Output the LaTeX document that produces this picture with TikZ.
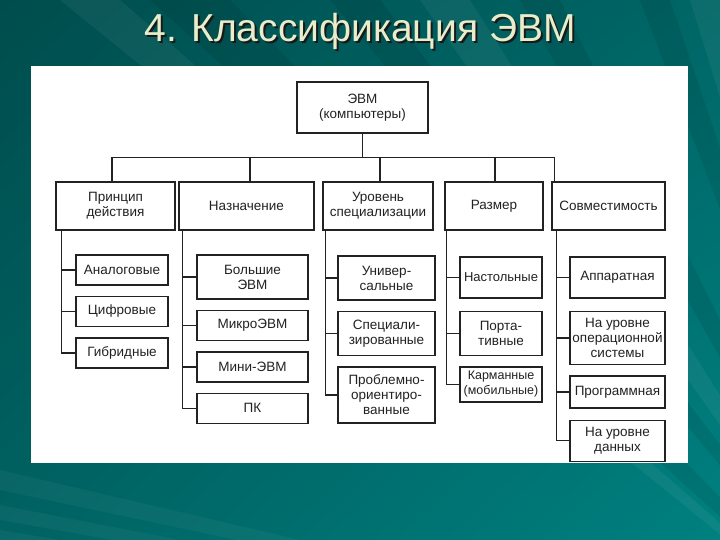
\documentclass[tikz,border=0pt]{standalone}
\usepackage{fontspec}
\setmainfont{Liberation Sans}
\usepackage{tikz}
\usetikzlibrary{positioning,shadings}
\definecolor{tealA}{HTML}{004D4D}
\definecolor{tealB}{HTML}{006666}
\definecolor{tealC}{HTML}{006262}
\definecolor{tealD}{HTML}{008080}
\definecolor{cream}{HTML}{E8EECC}
\definecolor{ink}{HTML}{222222}

\begin{document}
\begin{tikzpicture}[
  x=1pt, y=-1pt,
  node distance=10pt,
  box/.style={draw=ink, line width=1.4pt, fill=white, align=center,
              inner xsep=1pt, inner ysep=1.5pt, text=ink,
              font=\fontsize{13.5}{15}\selectfont},
  head/.style={box, minimum height=48pt},
  link/.style={draw=ink, line width=1.4pt},
  colA/.style={box, minimum width=92pt, minimum height=30pt},
  colB/.style={box, minimum width=111pt, minimum height=30pt},
  colC/.style={box, minimum width=97pt, minimum height=44pt},
  colD/.style={box, minimum width=82pt, minimum height=41pt},
  colE/.style={box, minimum width=95pt, minimum height=41pt}
]
\useasboundingbox (0,0) rectangle (720,540);
% background of the slide
\shade[upper left=tealA, upper right=tealB, lower left=tealC, lower right=tealD]
  (0,0) rectangle (720,540);
\begin{scope}
  \clip (0,0) rectangle (720,540);
  \foreach \a/\b in {150/230, 330/380, 520/560, 640/670}
    \fill[black, opacity=0.08] (900,680) -- (\a,0) -- (\b,0) -- cycle;
  \foreach \a/\b in {60/120, 420/470, 690/720}
    \fill[white, opacity=0.05] (900,680) -- (\a,0) -- (\b,0) -- cycle;
  \foreach \a/\b in {470/490, 505/520, 530/545}
    \fill[white, opacity=0.04] (900,680) -- (0,\a) -- (0,\b) -- cycle;
\end{scope}

% title
\node[anchor=base, text=black!90, font=\fontsize{39}{46}\selectfont] (titleshadow) at (362,44) {4. Классификация ЭВМ};
\node[anchor=base, text=cream, font=\fontsize{39}{46}\selectfont] (title) at (360,42) {4. Классификация ЭВМ};

% white sheet
\fill[white] (31,66) rectangle (688,463);

% top of the tree
\node[box, minimum width=131pt, minimum height=51pt] (evm) at (362.5,107.5) {ЭВМ\\(компьютеры)};
\node[head, minimum width=119pt] (prin) at (115.5,206) {Принцип\\действия};
\node[head, minimum width=135pt] (nazn) at (246.5,206) {Назначение};
\node[head, minimum width=110pt] (urov) at (378,206) {Уровень\\специализации};
\node[head, minimum width=98pt]  (razm) at (494,206) {Размер};
\node[head, minimum width=113pt] (sovm) at (608.5,206) {Совместимость};

\draw[link] (evm.south) -- ++(0,24) coordinate (bus);
\foreach \n/\dx in {prin/-3.5, nazn/3.5, urov/2, razm/1}
  \draw[link] ([xshift=\dx pt]\n.north) |- (bus);
\draw[link] ([xshift=3pt]sovm.north west) |- (bus);

% principle
\node[colA] (analog) at (122,270) {Аналоговые};
\node[colA, below=of analog] (cifr) {Цифровые};
\node[colA, below=of cifr] (gibr) {Гибридные};
% purpose
\node[colB, minimum height=44pt] (bolsh) at (252.5,277) {Большие\\ЭВМ};
\node[colB, below=of bolsh] (mikro) {МикроЭВМ};
\node[colB, below=of mikro] (mini) {Мини-ЭВМ};
\node[colB, below=of mini] (pk) {ПК};
% specialisation
\node[colC] (univ) at (386.5,278) {Универ-\\сальные};
\node[colC, below=of univ] (spec) {Специали-\\зированные};
\node[colC, below=of spec, minimum height=56pt] (probl) {Проблемно-\\ориентиро-\\ванные};
% size
\node[colD, font=\fontsize{13}{15}\selectfont] (nast) at (501,277.5) {Настольные};
\node[colD, below=12pt of nast, minimum height=44pt] (port) {Порта-\\тивные};
\node[colD, below=of port, minimum height=35pt, inner xsep=0pt,
      font=\fontsize{12.5}{15}\selectfont] (karm) {Карманные\\(мобильные)};
% compatibility
\node[colE] (appar) at (617.5,277.5) {Аппаратная};
\node[colE, below=12pt of appar, minimum height=53pt] (os) {На уровне\\операционной\\системы};
\node[colE, below=of os, minimum height=32pt] (progr) {Программная};
\node[colE, below=11pt of progr] (dann) {На уровне\\данных};

\foreach \n in {analog,cifr,gibr}
  \draw[link] ([xshift=6pt]prin.south west) |- (\n.west);
\foreach \n in {bolsh,mikro,mini,pk}
  \draw[link] ([xshift=4pt]nazn.south west) |- (\n.west);
\foreach \n in {univ,spec,probl}
  \draw[link] ([xshift=3pt]urov.south west) |- (\n.west);
\foreach \n in {nast,port,karm}
  \draw[link] ([xshift=2pt]razm.south west) |- (\n.west);
\foreach \n in {appar,os,progr,dann}
  \draw[link] ([xshift=5pt]sovm.south west) |- (\n.west);
\end{tikzpicture}
\end{document}
